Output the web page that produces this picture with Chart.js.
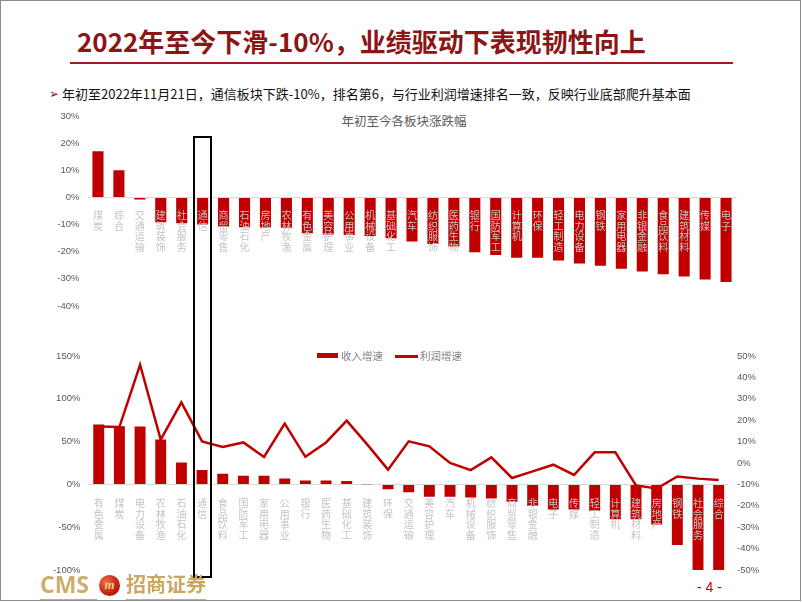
<!DOCTYPE html>
<html>
<head>
<meta charset="utf-8">
<script src="https://cdn.jsdelivr.net/npm/chart.js@4"></script>
<style>
  body { margin:0; width:802px; height:602px; background:#fff; position:relative; overflow:hidden; font-family:"Noto Sans CJK SC","Liberation Sans",sans-serif; }
  .abs { position:absolute; white-space:nowrap; }
</style>
</head>
<body>
<div class="abs" style="left:0;top:0;width:801px;height:601px;box-sizing:border-box;border:1px solid #8c8c8c"></div>

<div class="abs" style="left:77px;top:28px;font-size:26px;font-weight:700;color:#8c1515;line-height:1">2022年至今下滑-10%，业绩驱动下表现韧性向上</div>
<div class="abs" style="left:70px;top:62px;width:663px;height:2px;background:#a01c1c"></div>

<div class="abs" style="left:49px;top:87px;font-size:12px;color:#8c1515;line-height:1">➢</div>
<div class="abs" style="left:62px;top:87px;font-size:13px;color:#111;line-height:1">年初至2022年11月21日，通信板块下跌-10%，排名第6，与行业利润增速排名一致，反映行业底部爬升基本面</div>

<div class="abs" style="left:404px;top:115px;transform:translateX(-50%);font-size:12.5px;color:#595959;line-height:1">年初至今各板块涨跌幅</div>

<canvas id="top-chart" width="802" height="230" style="position:absolute;left:0;top:100px"></canvas>
<canvas id="bot-chart" width="802" height="255" style="position:absolute;left:0;top:340px"></canvas>

<!-- legend -->
<div class="abs" style="left:317px;top:353px;width:21px;height:5px;background:#c00000"></div>
<div class="abs" style="left:341px;top:351px;font-size:10.5px;color:#7f7f7f;line-height:1">收入增速</div>
<div class="abs" style="left:395px;top:355px;width:23px;height:2.5px;background:#c00000"></div>
<div class="abs" style="left:420px;top:351px;font-size:10.5px;color:#7f7f7f;line-height:1">利润增速</div>

<div id="hl" class="abs" style="border:2px solid #000;box-sizing:border-box"></div>

<!-- footer -->
<div class="abs" style="left:40px;top:573px;font-family:'Open Sans',sans-serif;font-size:23px;font-weight:700;color:#cfae6d;line-height:1">CMS</div>
<div class="abs" style="left:99px;top:575px;width:21px;height:21px;border-radius:50%;background:radial-gradient(circle at 35% 35%,#f07050,#c0200f 60%,#8a1005);color:#f6d27a;font:italic 700 13px 'Liberation Serif',serif;text-align:center;line-height:20px">m</div>
<div class="abs" style="left:126px;top:574px;font-size:20px;font-weight:700;color:#cba762;line-height:1">招商证券</div>
<div class="abs" style="left:40px;top:599px;width:57px;height:1px;background:#cfae6d"></div>
<div class="abs" style="left:126px;top:599px;width:80px;height:1px;background:#cfae6d"></div>
<div class="abs" style="left:697px;top:580px;font-family:'Liberation Sans',sans-serif;font-size:14px;color:#c00000;line-height:1">- 4 -</div>

<script>
// 年初至今各板块涨跌幅 (%)
const topCats = ['煤炭','综合','交通运输','建筑装饰','社会服务','通信','商贸零售','石油石化','房地产','农林牧渔',
  '有色金属','美容护理','公用事业','机械设备','基础化工','汽车','纺织服饰','医药生物','银行','国防军工',
  '计算机','环保','轻工制造','电力设备','钢铁','家用电器','非银金融','食品饮料','建筑材料','传媒','电子'];
const topVals = [17.0, 10.0, -0.8, -9.1, -9.5, -10.0, -10.7, -11.0, -11.1, -11.2,
  -13.2, -13.7, -13.8, -14.2, -15.0, -16.2, -17.2, -18.1, -20.2, -21.2,
  -22.2, -22.2, -23.2, -24.3, -25.2, -26.3, -27.3, -28.3, -29.1, -30.2, -31.2];
const topTicks = { min: -40, max: 30, step: 10 };

// 收入增速 / 利润增速 (%)
const botCats = ['有色金属','煤炭','电力设备','农林牧渔','石油石化','通信','食品饮料','国防军工','家用电器','公用事业',
  '银行','医药生物','基础化工','建筑装饰','环保','交通运输','美容护理','汽车','机械设备','纺织服饰',
  '商贸零售','非银金融','电子','传媒','轻工制造','计算机','建筑材料','房地产','钢铁','社会服务','综合'];
const revenue = [70.0, 68.0, 67.7, 52.5, 25.7, 16.7, 12.4, 10.0, 10.0, 7.0,
  4.7, 4.5, 3.9, 0.3, -5.8, -9.3, -14.4, -14.4, -15.2, -16.4,
  -20.3, -25.3, -29.2, -29.2, -30.8, -40.8, -40.8, -46.7, -70.8, -100.0, -100.0];
const profit = [17.1, 16.8, 45.9, 10.9, 28.3, 10.1, 7.5, 9.6, 2.8, 18.4,
  2.9, 9.6, 19.8, 8.6, -3.1, 10.1, 7.8, 0.0, -3.3, 2.6,
  -7.0, -3.9, -0.8, -5.6, 5.0, 5.0, -10.5, -11.9, -6.3, -7.3, -8.0];
const leftTicks  = { min: -100, max: 150, step: 50 };
const rightTicks = { min: -50,  max: 50,  step: 10 };

const RED = '#c00000';
const vert = s => s.split('');
const tickFont  = { family: "'Liberation Sans', Arial, sans-serif", size: 9.5 };
const catFont   = { family: "'Noto Sans CJK SC', sans-serif", size: 10, lineHeight: 1.05 };
const zeroGrid  = c => c.tick.value === 0 ? '#d9d9d9' : 'transparent';

const topChart = new Chart(document.getElementById('top-chart'), {
  type: 'bar',
  data: { labels: topCats.map(vert), datasets: [{ data: topVals, backgroundColor: RED, barPercentage: 0.53, categoryPercentage: 1 }] },
  options: {
    responsive: false, animation: false,
    layout: { padding: { left: 0, right: 65.5, top: 16, bottom: 24 } },
    plugins: { legend: { display: false }, tooltip: { enabled: false } },
    scales: {
      x: {
        position: { y: 0 },
        grid: { display: false }, border: { display: false },
        ticks: { z: 1, color: '#c4c4c4', font: catFont, padding: 5, autoSkip: false, maxRotation: 0 },
      },
      y: {
        min: topTicks.min, max: topTicks.max,
        afterFit: s => { s.width = 87.5; },
        grid: { color: zeroGrid, drawTicks: false }, border: { display: false },
        ticks: { stepSize: topTicks.step, color: '#595959', font: tickFont, padding: 8, callback: v => v + '%' },
      },
    },
  },
});

const botChart = new Chart(document.getElementById('bot-chart'), {
  type: 'bar',
  data: {
    labels: botCats.map(vert),
    datasets: [
      { type: 'line', label: '利润增速', data: profit, yAxisID: 'y1', borderColor: RED, borderWidth: 2.5, pointRadius: 0, tension: 0, order: 0 },
      { type: 'bar',  label: '收入增速', data: revenue, yAxisID: 'y', backgroundColor: RED, barPercentage: 0.53, categoryPercentage: 1, order: 1 },
    ],
  },
  options: {
    responsive: false, animation: false,
    layout: { padding: { left: 0, right: 0, top: 16, bottom: 25 } },
    plugins: { legend: { display: false }, tooltip: { enabled: false } },
    scales: {
      x: {
        position: { y: 0 },
        grid: { display: false }, border: { display: false },
        ticks: { z: 1, color: '#c4c4c4', font: catFont, padding: 6, autoSkip: false, maxRotation: 0 },
      },
      y: {
        position: 'left', min: leftTicks.min, max: leftTicks.max,
        afterFit: s => { s.width = 88.4; },
        grid: { color: zeroGrid, drawTicks: false }, border: { display: false },
        ticks: { stepSize: leftTicks.step, color: '#595959', font: tickFont, padding: 8, callback: v => v + '%' },
      },
      y1: {
        position: 'right', min: rightTicks.min, max: rightTicks.max,
        afterFit: s => { s.width = 73; },
        grid: { display: false, drawTicks: false }, border: { display: false },
        ticks: { stepSize: rightTicks.step, color: '#595959', font: tickFont, padding: 8, callback: v => v + '%' },
      },
    },
  },
});

// highlight box around 通信, placed from the chart scales
(function placeHighlight() {
  const i  = topCats.indexOf('通信');
  const cx = topChart.scales.x.getPixelForValue(i);
  const top = 100 + topChart.scales.y.getPixelForValue(22.5);
  const bot = 340 + botChart.scales.y.getPixelForValue(leftTicks.min) + 8;
  const hl = document.getElementById('hl');
  hl.style.left = (cx - 9.5) + 'px';
  hl.style.width = '19px';
  hl.style.top = top + 'px';
  hl.style.height = (bot - top) + 'px';
})();
</script>
</body>
</html>
